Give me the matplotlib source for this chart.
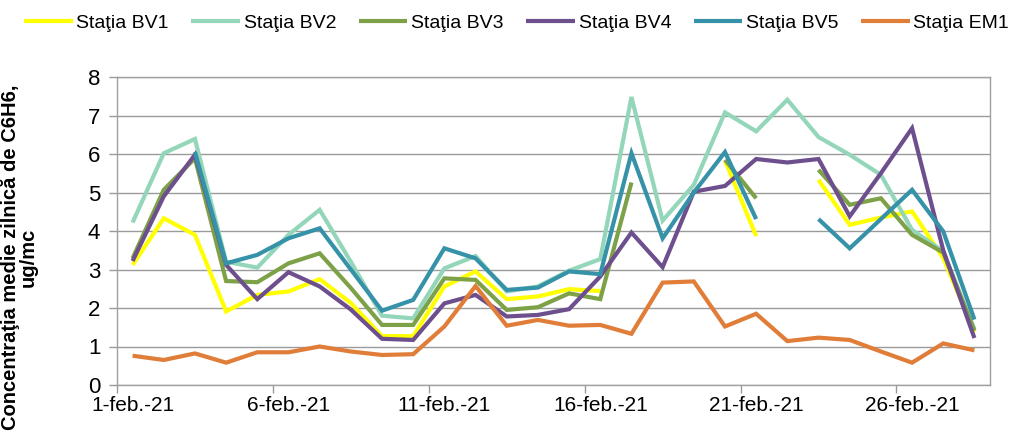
import numpy as np
import matplotlib
matplotlib.use("Agg")
import matplotlib.pyplot as plt

plt.rcParams['font.family'] = ['Liberation Sans', 'DejaVu Sans']

nan = np.nan
days = list(range(1, 29))
tick_days = [1, 6, 11, 16, 21, 26]
tick_labels = ["1-feb.-21", "6-feb.-21", "11-feb.-21", "16-feb.-21", "21-feb.-21", "26-feb.-21"]

bv1 = [3.12, 4.33, 3.90, 1.91, 2.34, 2.43, 2.75, 2.13, 1.27, 1.27, 2.56, 2.95, 2.23, 2.30,
       2.49, 2.44, nan, nan, nan, 5.83, 3.87, nan, 5.33, 4.16, 4.35, 4.51, 3.30, 1.37]
bv2 = [4.22, 6.02, 6.39, 3.20, 3.05, 3.90, 4.55, 3.20, 1.80, 1.73, 3.03, 3.35, 2.43, 2.56,
       2.97, 3.27, 7.48, 4.27, 5.20, 7.08, 6.59, 7.41, 6.44, 5.98, 5.46, 4.03, 3.47, 1.45]
bv3 = [3.29, 5.07, 5.89, 2.70, 2.67, 3.16, 3.42, 2.52, 1.56, 1.56, 2.77, 2.73, 1.95, 2.02,
       2.38, 2.23, 5.26, nan, nan, 5.85, 4.85, nan, 5.59, 4.68, 4.85, 3.90, 3.44, 1.41]
bv4 = [3.22, 4.90, 5.98, 3.12, 2.23, 2.93, 2.56, 1.96, 1.20, 1.17, 2.12, 2.34, 1.78, 1.82,
       1.97, 2.82, 3.96, 3.06, 5.02, 5.17, 5.87, 5.78, 5.87, 4.38, 5.50, 6.67, 3.50, 1.22]
bv5 = [nan, nan, 6.05, 3.16, 3.38, 3.81, 4.07, 3.00, 1.93, 2.21, 3.55, 3.29, 2.47, 2.53,
       2.95, 2.88, 6.02, 3.81, 5.00, 6.05, 4.31, nan, 4.31, 3.55, 4.31, 5.07, 3.99, 1.70]
em1 = [0.76, 0.65, 0.82, 0.58, 0.85, 0.85, 1.00, 0.87, 0.78, 0.80, 1.52, 2.57, 1.54, 1.69,
       1.54, 1.56, 1.33, 2.66, 2.69, 1.52, 1.85, 1.14, 1.23, 1.17, 0.87, 0.58, 1.08, 0.90]

series = [
    ("Staţia BV1", bv1, "#FFFF00"),
    ("Staţia BV2", bv2, "#93D6BA"),
    ("Staţia BV3", bv3, "#7DA147"),
    ("Staţia BV4", bv4, "#6E4F8E"),
    ("Staţia BV5", bv5, "#3592A8"),
    ("Staţia EM1", em1, "#E07D38"),
]

fig = plt.figure(figsize=(10.13, 4.32), dpi=100)
ax = fig.add_axes([117/1013, 1-385/432, 873/1013, 308/432])

x = np.array(days) - 0.5  # centred between day boundaries
for name, vals, col in series:
    ax.plot(x, vals, color=col, lw=3.0, label=name, solid_joinstyle='miter',
            solid_capstyle='butt')

ax.set_xlim(0, 28)
ax.set_ylim(0, 8)
ax.set_yticks(range(0, 9))
ax.yaxis.grid(True, color="#9a9a9a", lw=1.0)
ax.set_axisbelow(True)

# boundaries as major ticks, labels at day centres
ax.set_xticks([d - 1 for d in tick_days])
ax.set_xticklabels([])
ax.set_xticks([d - 0.5 for d in tick_days], minor=True)
ax.set_xticklabels(tick_labels, minor=True)
ax.tick_params(axis='x', which='minor', length=0, labelsize=15, pad=8)
ax.tick_params(axis='x', which='major', length=6, color="#9a9a9a", width=1)
ax.tick_params(axis='y', length=6, color="#9a9a9a", width=1, labelsize=16, pad=6)

for s in ax.spines.values():
    s.set_color("#a0a0a0")
    s.set_linewidth(1.0)

ax.set_ylabel("Concentraţia medie zilnică de C6H6,\nug/mc", fontsize=14.5,
              fontweight='bold', linespacing=0.95)
ax.yaxis.set_label_coords(-0.0905, 0.415)

fig.legend(loc='center left', bbox_to_anchor=(24/1013, 1-23/432), ncol=6,
           frameon=False, fontsize=14, handlelength=2.5, handletextpad=0.2,
           columnspacing=1.15, borderpad=0, borderaxespad=0)

fig.savefig("out.png", dpi=100)
